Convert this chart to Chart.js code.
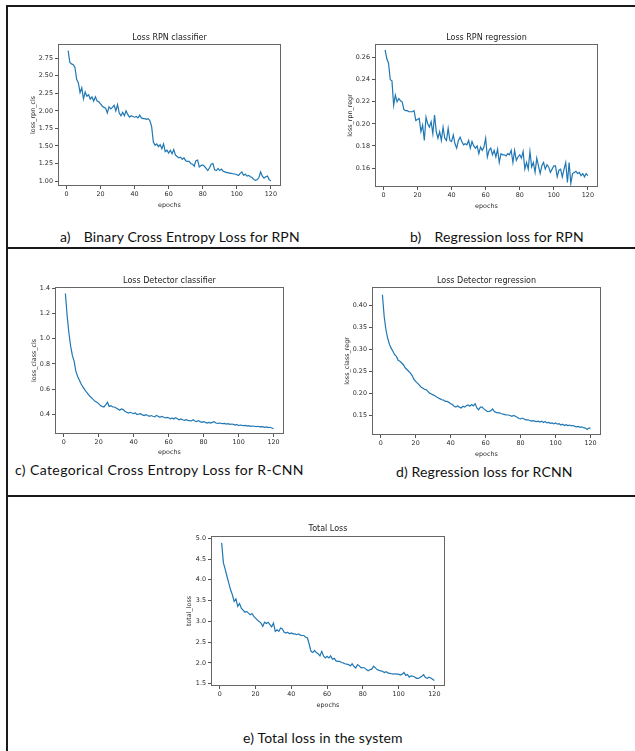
<!DOCTYPE html>
<html>
<head>
<meta charset="utf-8">
<title>Training loss curves</title>
<script src="https://cdn.jsdelivr.net/npm/chart.js@4.4.0/dist/chart.umd.min.js"></script>
<style>
  body { margin: 0; background: #fff; }
  #page { position: relative; width: 635px; height: 751px; overflow: hidden; background: #fff; }
  canvas { position: absolute; }
  .rule { position: absolute; background: #1a1a1a; }
  .caption { position: absolute; font-family: Lato, 'Open Sans', sans-serif; font-size: 14px; line-height: 14px; letter-spacing: 0.15px; color: #111; white-space: pre; }
</style>
</head>
<body>
<div id="page">
  <div class="rule" style="left:6px;top:5px;width:629px;height:2px"></div>
  <div class="rule" style="left:6px;top:247px;width:629px;height:2px"></div>
  <div class="rule" style="left:6px;top:495px;width:629px;height:2px"></div>
  <div class="rule" style="left:6px;top:5px;width:2px;height:746px"></div>

  <canvas id="rpnCls" width="262" height="176" style="left:29px;top:33px"></canvas>
  <canvas id="rpnRegr" width="262" height="177" style="left:346px;top:33px"></canvas>
  <canvas id="classCls" width="264" height="180" style="left:30px;top:276px"></canvas>
  <canvas id="classRegr" width="268" height="182" style="left:343px;top:276px"></canvas>
  <canvas id="totalLoss" width="270" height="185" style="left:185px;top:524px"></canvas>

  <div class="caption" style="left:60px;top:230px">a)<span style="margin-left:13px">Binary Cross Entropy Loss for RPN</span></div>
  <div class="caption" style="left:410px;top:230px">b)<span style="margin-left:13px">Regression loss for RPN</span></div>
  <div class="caption" style="left:15px;top:463px;letter-spacing:0.4px">c) Categorical Cross Entropy Loss for R-CNN</div>
  <div class="caption" style="left:396px;top:465px">d) Regression loss for RCNN</div>
  <div class="caption" style="left:243px;top:731px">e) Total loss in the system</div>
</div>

<script>
// epochs 1..120 on the x axis
const epochs = Array.from({ length: 120 }, (_, i) => i + 1);
const xTicks = [0, 20, 40, 60, 80, 100, 120];

const lossRpnCls = [
  2.86, 2.69, 2.67, 2.66, 2.62, 2.45, 2.40, 2.26, 2.33, 2.17,
  2.27, 2.21, 2.23, 2.17, 2.20, 2.14, 2.20, 2.14, 2.13, 2.10,
  2.07, 2.05, 2.04, 1.97, 2.06, 2.03, 2.05, 2.08, 2.00, 2.09,
  1.97, 1.93, 1.98, 1.93, 2.00, 1.95, 1.91, 1.93, 1.92, 1.91,
  1.92, 1.90, 1.94, 1.90, 1.89, 1.89, 1.88, 1.89, 1.86, 1.78,
  1.56, 1.51, 1.53, 1.49, 1.52, 1.46, 1.53, 1.42, 1.44, 1.40,
  1.44, 1.39, 1.45, 1.37, 1.35, 1.33, 1.34, 1.31, 1.33, 1.29,
  1.28, 1.28, 1.25, 1.24, 1.21, 1.29, 1.30, 1.20, 1.22, 1.23,
  1.21, 1.18, 1.15, 1.19, 1.24, 1.25, 1.16, 1.15, 1.18, 1.15,
  1.17, 1.14, 1.13, 1.12, 1.12, 1.11, 1.11, 1.10, 1.10, 1.09,
  1.08, 1.11, 1.13, 1.08, 1.10, 1.07, 1.08, 1.06, 1.05, 1.02,
  1.01, 1.02, 1.05, 1.13, 1.07, 1.04, 1.06, 1.07, 1.02, 1.00
];
const rpnClsTicks = [1.00, 1.25, 1.50, 1.75, 2.00, 2.25, 2.50, 2.75];

const lossRpnRegr = [
  0.267, 0.259, 0.255, 0.240, 0.239, 0.217, 0.226, 0.220, 0.223, 0.221,
  0.220, 0.213, 0.212, 0.212, 0.211, 0.211, 0.211, 0.212, 0.203, 0.204,
  0.205, 0.193, 0.199, 0.185, 0.206, 0.200, 0.197, 0.202, 0.191, 0.208,
  0.193, 0.187, 0.193, 0.185, 0.197, 0.187, 0.185, 0.196, 0.185, 0.184,
  0.190, 0.182, 0.178, 0.185, 0.188, 0.184, 0.181, 0.182, 0.181, 0.185,
  0.178, 0.184, 0.180, 0.178, 0.180, 0.173, 0.179, 0.176, 0.179, 0.187,
  0.170, 0.176, 0.178, 0.172, 0.176, 0.170, 0.177, 0.165, 0.173, 0.172,
  0.172, 0.171, 0.173, 0.172, 0.176, 0.165, 0.176, 0.167, 0.170, 0.172,
  0.169, 0.175, 0.159, 0.165, 0.159, 0.175, 0.161, 0.165, 0.156, 0.169,
  0.162, 0.155, 0.162, 0.165, 0.159, 0.163, 0.161, 0.156, 0.159, 0.162,
  0.162, 0.152, 0.158, 0.159, 0.152, 0.159, 0.165, 0.147, 0.165, 0.146,
  0.155, 0.156, 0.157, 0.155, 0.156, 0.153, 0.155, 0.152, 0.155, 0.153
];
const rpnRegrTicks = [0.16, 0.18, 0.20, 0.22, 0.24, 0.26];

const lossClassCls = [
  1.358, 1.180, 1.045, 0.940, 0.865, 0.820, 0.740, 0.700, 0.670, 0.640,
  0.617, 0.596, 0.577, 0.560, 0.543, 0.530, 0.516, 0.503, 0.495, 0.485,
  0.469, 0.463, 0.458, 0.474, 0.495, 0.463, 0.469, 0.458, 0.458, 0.450,
  0.442, 0.432, 0.442, 0.437, 0.424, 0.416, 0.410, 0.416, 0.410, 0.405,
  0.410, 0.397, 0.402, 0.405, 0.395, 0.390, 0.397, 0.390, 0.384, 0.390,
  0.384, 0.379, 0.390, 0.384, 0.376, 0.384, 0.379, 0.371, 0.376, 0.373,
  0.365, 0.371, 0.363, 0.373, 0.365, 0.357, 0.363, 0.357, 0.352, 0.357,
  0.352, 0.350, 0.347, 0.357, 0.347, 0.342, 0.350, 0.342, 0.336, 0.342,
  0.336, 0.331, 0.336, 0.331, 0.336, 0.342, 0.331, 0.328, 0.331, 0.328,
  0.326, 0.328, 0.323, 0.326, 0.320, 0.323, 0.320, 0.315, 0.320, 0.310,
  0.315, 0.312, 0.310, 0.312, 0.307, 0.310, 0.305, 0.307, 0.305, 0.302,
  0.305, 0.300, 0.302, 0.300, 0.297, 0.300, 0.294, 0.297, 0.291, 0.286
];
const classClsTicks = [0.4, 0.6, 0.8, 1.0, 1.2, 1.4];

const lossClassRegr = [
  0.425, 0.376, 0.345, 0.326, 0.312, 0.303, 0.296, 0.288, 0.284, 0.275,
  0.273, 0.269, 0.265, 0.258, 0.254, 0.250, 0.246, 0.240, 0.232, 0.227,
  0.223, 0.219, 0.214, 0.212, 0.209, 0.208, 0.204, 0.200, 0.198, 0.196,
  0.194, 0.191, 0.189, 0.187, 0.185, 0.184, 0.181, 0.181, 0.179, 0.176,
  0.174, 0.170, 0.168, 0.171, 0.168, 0.166, 0.170, 0.168, 0.171, 0.173,
  0.170, 0.174, 0.171, 0.176, 0.166, 0.162, 0.168, 0.168, 0.164, 0.161,
  0.158, 0.158, 0.160, 0.164, 0.158, 0.156, 0.155, 0.155, 0.153, 0.152,
  0.151, 0.150, 0.150, 0.149, 0.147, 0.149, 0.147, 0.145, 0.142, 0.141,
  0.143, 0.141, 0.139, 0.139, 0.138, 0.136, 0.137, 0.136, 0.135, 0.136,
  0.134, 0.136, 0.133, 0.135, 0.132, 0.133, 0.131, 0.132, 0.130, 0.132,
  0.129, 0.130, 0.127, 0.129, 0.126, 0.128, 0.126, 0.127, 0.125, 0.126,
  0.124, 0.123, 0.124, 0.122, 0.123, 0.121, 0.120, 0.117, 0.120, 0.120
];
const classRegrTicks = [0.15, 0.20, 0.25, 0.30, 0.35, 0.40];

const totalLoss = [
  4.89, 4.41, 4.25, 4.08, 3.92, 3.76, 3.64, 3.48, 3.54, 3.36,
  3.43, 3.32, 3.27, 3.22, 3.24, 3.20, 3.16, 3.19, 3.12, 3.08,
  3.03, 3.00, 2.96, 2.88, 2.98, 2.95, 2.98, 2.92, 2.87, 2.96,
  2.76, 2.80, 2.76, 2.84, 2.82, 2.74, 2.72, 2.74, 2.70, 2.72,
  2.70, 2.70, 2.68, 2.70, 2.67, 2.66, 2.66, 2.62, 2.60, 2.45,
  2.28, 2.25, 2.30, 2.25, 2.22, 2.17, 2.28, 2.17, 2.12, 2.16,
  2.12, 2.17, 2.09, 2.11, 2.05, 2.04, 2.04, 2.01, 2.00, 1.98,
  1.97, 1.96, 1.93, 1.98, 1.92, 1.88, 1.96, 1.93, 1.88, 1.89,
  1.88, 1.84, 1.81, 1.84, 1.85, 1.92, 1.88, 1.84, 1.82, 1.81,
  1.80, 1.77, 1.79, 1.76, 1.75, 1.74, 1.73, 1.74, 1.73, 1.73,
  1.71, 1.73, 1.77, 1.70, 1.72, 1.66, 1.69, 1.68, 1.66, 1.63,
  1.63, 1.65, 1.68, 1.72, 1.65, 1.63, 1.66, 1.64, 1.61, 1.58
];
const totalTicks = [1.5, 2.0, 2.5, 3.0, 3.5, 4.0, 4.5, 5.0];

// matplotlib-like box around the axes
const axesFrame = {
  id: 'axesFrame',
  afterDatasetsDraw(chart) {
    const { ctx, chartArea: a } = chart;
    ctx.save();
    ctx.strokeStyle = '#666';
    ctx.lineWidth = 1;
    ctx.strokeRect(a.left + 0.5, a.top + 0.5, a.width - 1, a.height - 1);
    ctx.restore();
  }
};

const mplFont = 'DejaVu Sans';

function makeLossChart(cfg) {
  const ctx = document.getElementById(cfg.id);
  const points = cfg.values.map((v, i) => ({ x: epochs[i], y: v }));

  new Chart(ctx, {
    type: 'line',
    data: {
      datasets: [{
        data: points,
        borderColor: '#1f77b4',
        borderWidth: 1.2,
        pointRadius: 0,
        tension: 0,
        fill: false
      }]
    },
    plugins: [axesFrame],
    options: {
      responsive: false,
      animation: false,
      events: [],
      layout: { autoPadding: false, padding: { top: 0, left: 0, right: 10, bottom: 0 } },
      plugins: {
        legend: { display: false },
        tooltip: { enabled: false },
        title: {
          display: true,
          text: cfg.title,
          fullSize: false,
          color: '#222',
          font: { family: mplFont, size: 8, weight: 'normal', lineHeight: '9px' },
          padding: { top: 0, bottom: cfg.titleGap }
        }
      },
      scales: {
        x: {
          type: 'linear',
          min: -4.95,
          max: 125.95,
          afterBuildTicks: axis => { axis.ticks = xTicks.map(v => ({ value: v })); },
          afterFit: axis => { axis.height = cfg.xAxisHeight; },
          border: { display: false },
          grid: { drawOnChartArea: false, drawTicks: true, tickLength: 3, tickColor: '#555' },
          ticks: {
            autoSkip: false, maxRotation: 0, minRotation: 0, padding: 2,
            color: '#2a2a2a', font: { family: mplFont, size: 6.4 }
          },
          title: {
            display: true, text: 'epochs', color: '#2a2a2a', padding: 0,
            font: { family: mplFont, size: 6.4, lineHeight: '8px' }
          }
        },
        y: {
          min: cfg.yMin,
          max: cfg.yMax,
          afterBuildTicks: axis => { axis.ticks = cfg.yTicks.map(v => ({ value: v })); },
          afterFit: axis => { axis.width = cfg.yAxisWidth; },
          border: { display: false },
          grid: { drawOnChartArea: false, drawTicks: true, tickLength: 3, tickColor: '#555' },
          ticks: {
            autoSkip: false, padding: 2, color: '#2a2a2a',
            font: { family: mplFont, size: 6.4 },
            callback: v => Number(v).toFixed(cfg.decimals)
          },
          title: {
            display: true, text: cfg.yLabel, color: '#2a2a2a', padding: 0,
            font: { family: mplFont, size: 6.4, lineHeight: '8px' }
          }
        }
      }
    }
  });
}

document.addEventListener('DOMContentLoaded', function () {
  makeLossChart({
    id: 'rpnCls', title: 'Loss RPN classifier', yLabel: 'loss_rpn_cls',
    values: lossRpnCls, yTicks: rpnClsTicks, decimals: 2,
    yMin: 0.929, yMax: 2.954, yAxisWidth: 29, xAxisHeight: 23, titleGap: 2
  });
  makeLossChart({
    id: 'rpnRegr', title: 'Loss RPN regression', yLabel: 'loss_rpn_regr',
    values: lossRpnRegr, yTicks: rpnRegrTicks, decimals: 2,
    yMin: 0.1428, yMax: 0.2724, yAxisWidth: 29, xAxisHeight: 23, titleGap: 2
  });
  makeLossChart({
    id: 'classCls', title: 'Loss Detector classifier', yLabel: 'loss_class_cls',
    values: lossClassCls, yTicks: classClsTicks, decimals: 1,
    yMin: 0.2437, yMax: 1.41, yAxisWidth: 25, xAxisHeight: 22, titleGap: 2
  });
  makeLossChart({
    id: 'classRegr', title: 'Loss Detector regression', yLabel: 'loss_class_regr',
    values: lossClassRegr, yTicks: classRegrTicks, decimals: 2,
    yMin: 0.1043, yMax: 0.4428, yAxisWidth: 29, xAxisHeight: 23, titleGap: 2
  });
  makeLossChart({
    id: 'totalLoss', title: 'Total Loss', yLabel: 'total_loss',
    values: totalLoss, yTicks: totalTicks, decimals: 1,
    yMin: 1.445, yMax: 5.055, yAxisWidth: 26, xAxisHeight: 23, titleGap: 3
  });
});
</script>
</body>
</html>
